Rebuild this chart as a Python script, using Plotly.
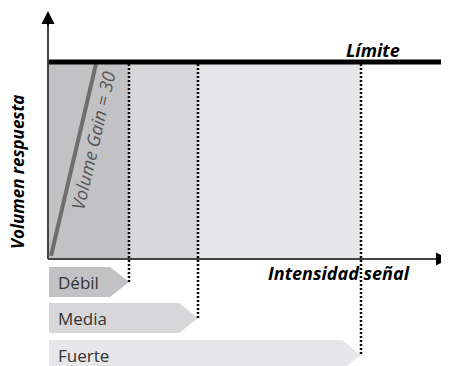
import plotly.graph_objects as go

# signal categories and where each one ends on the intensity axis
signal_levels = ["Débil", "Media", "Fuerte"]
signal_max = [81, 150, 313]
level_fill = ["#c2c2c4", "#d7d7d9", "#e7e7e9"]
label_y = [-23, -59, -96]

# response ceiling and the gain line
limit_value = 197
gain_x = [3, 48]
gain_y = [3, 195]
gain_label = "Volume Gain = 30"

FONT = "Open Sans"

fig = go.Figure()

# shaded zones, widest first so narrow ones sit on top
shapes = []
for x_end, col in reversed(list(zip(signal_max, level_fill))):
    shapes.append(dict(type="rect", x0=0, x1=x_end, y0=0, y1=limit_value - 2,
                       fillcolor=col, line_width=0, layer="below"))

# dotted drop lines from the zone edge to its label arrow
for x_end, ly in zip(signal_max, label_y):
    shapes.append(dict(type="line", x0=x_end, x1=x_end, y0=limit_value - 2, y1=ly,
                       line=dict(color="black", width=2.5, dash="2px,2px")))

# limit line
shapes.append(dict(type="line", x0=0, x1=401, y0=limit_value, y1=limit_value,
                   line=dict(color="black", width=5)))

# axes
shapes.append(dict(type="line", x0=0, x1=0, y0=0, y1=240,
                   line=dict(color="#444444", width=2)))
shapes.append(dict(type="line", x0=0, x1=398, y0=0, y1=0,
                   line=dict(color="#444444", width=2)))

# label arrows (pentagon shapes)
for name, x_end, ly, col in zip(signal_levels, signal_max, label_y, level_fill):
    h = 15
    xs = [1, x_end - 19, x_end, x_end - 19, 1, 1]
    ys = [ly + h, ly + h, ly, ly - h, ly - h, ly + h]
    fig.add_trace(go.Scatter(x=xs, y=ys, fill="toself", fillcolor=col,
                             mode="lines", line=dict(width=0), hoverinfo="skip",
                             showlegend=False))
    fig.add_annotation(x=8, y=ly, text=name, showarrow=False, xanchor="left",
                       font=dict(family=FONT, size=17, color="#333333"))

# gain line
fig.add_trace(go.Scatter(x=gain_x, y=gain_y, mode="lines",
                         line=dict(color="#6e6e6e", width=4), hoverinfo="skip",
                         showlegend=False))

fig.add_annotation(x=45, y=118, text=gain_label, showarrow=False, textangle=-77,
                   font=dict(family=FONT, size=18, color="#555555", style="italic"))

# arrow heads
fig.add_annotation(x=0, y=248, ax=0, ay=232, xref="x", yref="y", axref="x", ayref="y",
                   text="", showarrow=True, arrowhead=2, arrowsize=1.3, arrowwidth=2,
                   arrowcolor="black")
fig.add_annotation(x=401, y=0, ax=392, ay=0, xref="x", yref="y", axref="x", ayref="y",
                   text="", showarrow=True, arrowhead=2, arrowsize=1.3, arrowwidth=2,
                   arrowcolor="black")

# axis titles
fig.add_annotation(x=-31, y=87, text="<b>Volumen respuesta</b>", showarrow=False,
                   textangle=-90, borderpad=0,
                   font=dict(family=FONT, size=17, color="black", style="italic"))
fig.add_annotation(x=364, y=-14, text="<b>Intensidad señal</b>", showarrow=False,
                   xanchor="right",
                   font=dict(family=FONT, size=18, color="black", style="italic"))
fig.add_annotation(x=354, y=209, text="<b>Límite</b>", showarrow=False,
                   xanchor="right",
                   font=dict(family=FONT, size=18, color="black", style="italic"))

# page body has an 8px margin, so shift the ranges to line up with the window
fig.update_layout(
    width=449, height=366,
    margin=dict(l=0, r=0, t=0, b=0),
    paper_bgcolor="white", plot_bgcolor="white",
    shapes=shapes,
    xaxis=dict(range=[-40, 409], visible=False, fixedrange=True),
    yaxis=dict(range=[-115, 251], visible=False, fixedrange=True),
    showlegend=False,
)

fig.write_html("out.html")
